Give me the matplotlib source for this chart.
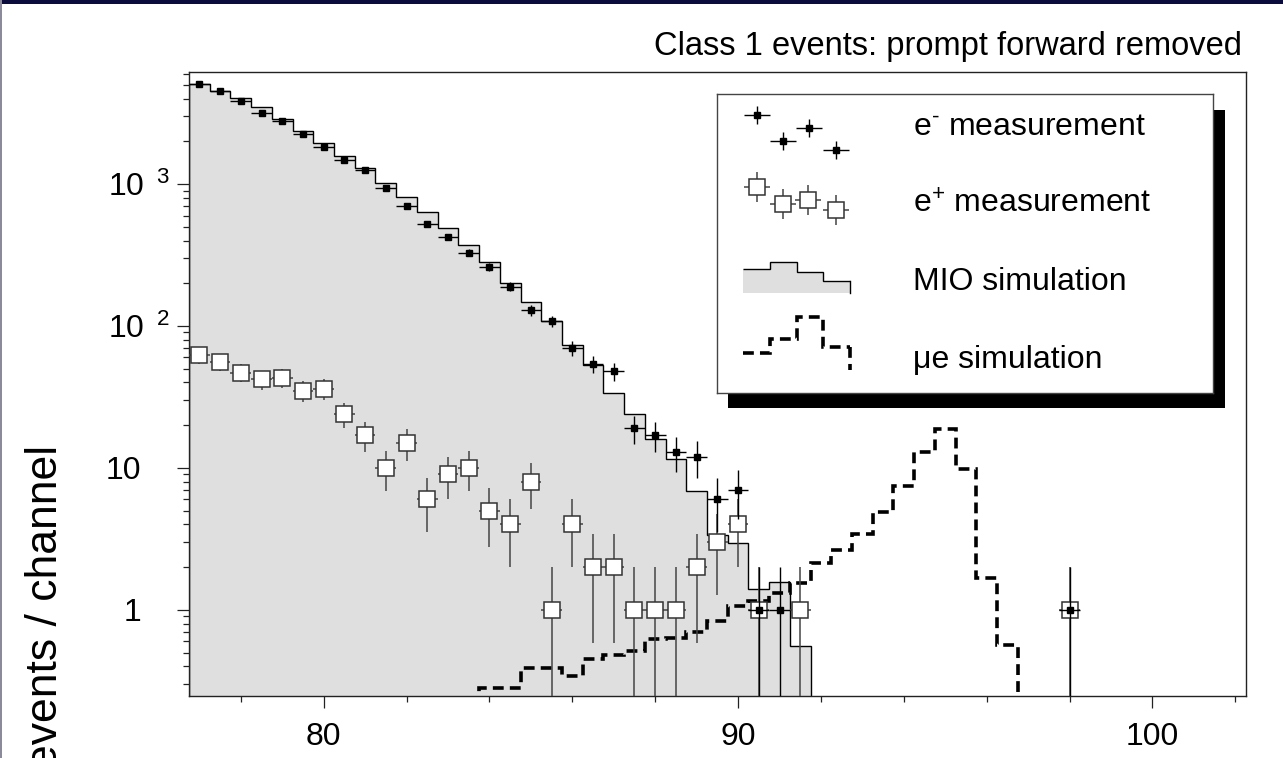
import numpy as np
import matplotlib
matplotlib.use("Agg")
import matplotlib.pyplot as plt
from matplotlib.patches import Rectangle
from matplotlib.ticker import FixedLocator, FixedFormatter, NullFormatter, LogLocator
from matplotlib.transforms import ScaledTranslation

plt.rcParams["font.family"] = ["Liberation Sans", "DejaVu Sans"]
plt.rcParams["mathtext.fontset"] = "custom"
plt.rcParams["mathtext.rm"] = "Liberation Sans"
plt.rcParams["mathtext.it"] = "Liberation Sans:italic"
plt.rcParams["mathtext.bf"] = "Liberation Sans:bold"

# e- measurement (channel centre, counts)
em_energy = [77.0, 77.5, 78.0, 78.5, 79.0, 79.5, 80.0, 80.5, 81.0, 81.5,
             82.0, 82.5, 83.0, 83.5, 84.0, 84.5, 85.0, 85.5, 86.0, 86.5,
             87.0, 87.5, 88.0, 88.5, 89.0, 89.5, 90.0, 90.5, 91.0, 98.0]
em_counts = [5060, 4520, 3850, 3165, 2780, 2260, 1820, 1475, 1250, 942,
             700, 522, 423, 328, 262, 189, 129, 108, 70, 54,
             48, 19, 17, 13, 12, 6, 7, 1, 1, 1]

# e+ measurement
ep_energy = [77.0, 77.5, 78.0, 78.5, 79.0, 79.5, 80.0, 80.5, 81.0, 81.5,
             82.0, 82.5, 83.0, 83.5, 84.0, 84.5, 85.0, 85.5, 86.0, 86.5,
             87.0, 87.5, 88.0, 88.5, 89.0, 89.5, 90.0, 90.5, 91.5, 98.0]
ep_counts = [62, 56, 47, 42, 43, 35, 36, 24, 17, 10,
             15, 6, 9, 10, 5, 4, 8, 1, 4, 2,
             2, 1, 1, 1, 2, 3, 4, 1, 1, 1]

# MIO simulation histogram
mio_edges = [76.75, 77.25, 77.75, 78.25, 78.75, 79.25, 79.75, 80.25, 80.75, 81.25,
             81.75, 82.25, 82.75, 83.25, 83.75, 84.25, 84.75, 85.25, 85.75, 86.25,
             86.75, 87.25, 87.75, 88.25, 88.75, 89.25, 89.75, 90.25, 90.75, 91.25, 91.75]
mio_counts = [5060, 4540, 4050, 3505, 2885, 2372, 1953, 1583, 1289, 1016,
              814, 632, 487, 370, 281, 202, 147, 108, 74, 53,
              34, 24, 16, 11.5, 6.9, 3.4, 2.95, 1.41, 1.57, 0.56]

# mu-e simulation histogram
mue_edges = [83.75, 84.25, 84.75, 85.25, 85.75, 86.25, 86.75, 87.25, 87.75, 88.25,
             88.75, 89.25, 89.75, 90.25, 90.75, 91.25, 91.75, 92.25, 92.75, 93.25,
             93.75, 94.25, 94.75, 95.25, 95.75, 96.25, 96.75]
mue_counts = [0.28, 0.28, 0.39, 0.39, 0.34, 0.45, 0.48, 0.51, 0.62, 0.63,
              0.70, 0.84, 1.07, 1.16, 1.32, 1.56, 2.13, 2.65, 3.43, 4.92,
              7.46, 13.0, 18.8, 9.8, 1.69, 0.57]

title = "Class 1 events: prompt forward removed"
ylabel = "events / channel"
xticks_major = [80, 90, 100]
xticks_minor = [78, 82, 84, 86, 88, 92, 94, 96, 98, 102]
yticks_major = [1, 10, 100, 1000]
ytick_labels = ["1", "10", r"$10^{\enspace\,2}$", r"$10^{\enspace\,3}$"]
legend_labels = [r"e$^{\text{-}}$ measurement", r"e$^{+}$ measurement",
                 "MIO simulation", "\u03bce simulation"]

W, H = 1283, 758
fig = plt.figure(figsize=(W / 100, H / 100), dpi=100)
dash = (0, (3.0, 1.7))

# main axes, placed in pixels
ax = fig.add_axes([189 / W, 1 - 695.7 / H, (1245.7 - 189) / W, (695.7 - 72) / H])
ax.set_yscale("log")

ax.stairs(mio_counts, mio_edges, baseline=1e-3, fill=True, color="#dfdfdf", zorder=1)
ax.stairs(mio_counts, mio_edges, baseline=1e-3, color="black", lw=1.0, zorder=1.5)
ax.stairs(mue_counts, mue_edges, baseline=1e-3, color="black", lw=2.6,
          linestyle=dash, zorder=2)

ep = np.array(ep_counts, dtype=float)
ep_err = np.sqrt(ep)
ax.errorbar(ep_energy, ep, xerr=0.25, yerr=[np.minimum(ep_err, ep * 0.999), ep_err],
            fmt="s", ms=11.5, mfc="white", mec="#333333", mew=1.1,
            ecolor="#444444", elinewidth=1.1, capsize=0, zorder=3)

em = np.array(em_counts, dtype=float)
em_err = np.sqrt(em)
ax.errorbar(em_energy, em, xerr=0.25, yerr=[np.minimum(em_err, em * 0.999), em_err],
            fmt="s", ms=5, color="black", elinewidth=1.0, capsize=0, zorder=4)

ax.set_xlim(76.75, 102.25)
ax.set_ylim(0.249, 6150)

ax.xaxis.set_major_locator(FixedLocator(xticks_major))
ax.xaxis.set_minor_locator(FixedLocator(xticks_minor))
ax.xaxis.set_minor_formatter(NullFormatter())
ax.yaxis.set_major_locator(FixedLocator(yticks_major))
ax.yaxis.set_major_formatter(FixedFormatter(ytick_labels))
ax.yaxis.set_minor_locator(LogLocator(base=10, subs=np.arange(2, 10), numticks=20))
ax.yaxis.set_minor_formatter(NullFormatter())

ax.tick_params(which="both", direction="out", color="#222222", width=0.9,
               top=False, right=False, labelsize=23)
ax.tick_params(which="major", length=8.6)
ax.tick_params(which="minor", length=4.3)
ax.tick_params(axis="x", pad=10)
ax.tick_params(axis="y", pad=26)
for s in ax.spines.values():
    s.set_linewidth(1.0)
    s.set_color("#222222")

# let the exponent hang to the right like the original
shift = ScaledTranslation(29 / 100, 0, fig.dpi_scale_trans)
for tick, lab in zip(ax.yaxis.get_major_ticks(), ytick_labels):
    if "^" in lab:
        tick.label1.set_transform(tick.label1.get_transform() + shift)

fig.text(1242 / W, 1 - 55 / H, title, ha="right", va="baseline", fontsize=23.5)
fig.text(66 / W, 1 - 445 / H, ylabel, rotation=90, ha="right", va="top", fontsize=32)

# legend box with drop shadow
fig.add_artist(Rectangle((728 / W, 1 - 408 / H), 497 / W, 298 / H,
                         transform=fig.transFigure, facecolor="black",
                         edgecolor="none", zorder=1))
lax = fig.add_axes([717 / W, 1 - 393 / H, 496 / W, 299 / H], zorder=2)
lax.set_xlim(0, 496)
lax.set_ylim(299, 0)
lax.set_xticks([])
lax.set_yticks([])
for s in lax.spines.values():
    s.set_linewidth(1.0)
    s.set_color("#444444")

lax.errorbar([40, 66, 92, 119], [21, 47, 34, 56], xerr=13, yerr=9, fmt="s", ms=5,
             color="black", elinewidth=1.0, capsize=0)
lax.errorbar([40, 66, 91, 119], [93, 110, 106, 116], xerr=13, yerr=15, fmt="s",
             ms=11.5, mfc="white", mec="#333333", mew=1.1, ecolor="#444444",
             elinewidth=1.1, capsize=0)
steps_x = [26, 53, 80, 106, 133]
lax.stairs([175, 168, 178, 187], steps_x, baseline=199, fill=True, color="#dfdfdf")
lax.stairs([175, 168, 178, 187], steps_x, baseline=None, color="black", lw=1.0)
lax.plot([133, 133], [187, 199], color="black", lw=1.0)
lax.stairs([259, 245, 223, 253], steps_x, baseline=None, color="black", lw=2.6,
           linestyle=dash)
lax.plot([133, 133], [253, 276], color="black", lw=2.6, linestyle=dash)

for yb, lab in zip([41, 119, 196, 274], legend_labels):
    lax.text(196, yb, lab, ha="left", va="baseline", fontsize=23)

# thin dark frame of the original screenshot
fig.add_artist(Rectangle((0, 1 - 4 / H), 1, 4 / H, transform=fig.transFigure,
                         facecolor="#0c0c3c", edgecolor="none", zorder=5))
fig.add_artist(Rectangle((0, 0), 1.5 / W, 1, transform=fig.transFigure,
                         facecolor="#8a8a9a", edgecolor="none", zorder=5))

fig.savefig("out.png", dpi=100)
